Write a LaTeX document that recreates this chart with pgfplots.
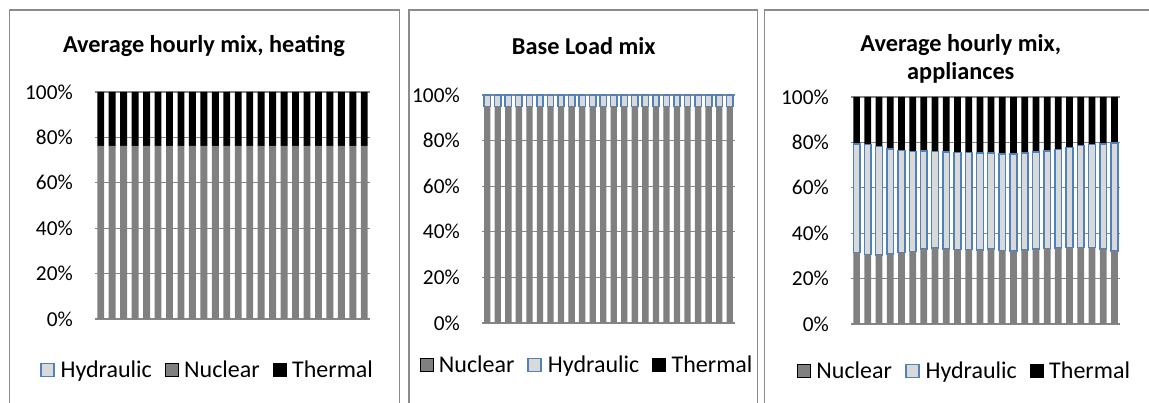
\documentclass[border=0pt]{standalone}
\usepackage{fontspec}
\setmainfont{Carlito}
\usepackage{pgfplots}
\usepackage{pgfplotstable}
\pgfplotsset{compat=1.18}
\definecolor{nucgray}{HTML}{808080}
\definecolor{hydfill}{HTML}{D9D9D9}
\definecolor{hydblue}{HTML}{4F81BD}
\definecolor{gridgray}{HTML}{868686}
\definecolor{framegray}{HTML}{8C8C8C}

\pgfplotstableread{
x hyd nuc the
1 0 76.3 23.7
2 0 76.3 23.7
3 0 76.3 23.7
4 0 76.3 23.7
5 0 76.3 23.7
6 0 76.3 23.7
7 0 76.3 23.7
8 0 76.3 23.7
9 0 76.3 23.7
10 0 76.3 23.7
11 0 76.3 23.7
12 0 76.3 23.7
13 0 76.3 23.7
14 0 76.3 23.7
15 0 76.3 23.7
16 0 76.3 23.7
17 0 76.3 23.7
18 0 76.3 23.7
19 0 76.3 23.7
20 0 76.3 23.7
21 0 76.3 23.7
22 0 76.3 23.7
23 0 76.3 23.7
24 0 76.3 23.7
}\heating

\pgfplotstableread{
x nuc hyd the
1 95 5 0
2 95 5 0
3 95 5 0
4 95 5 0
5 95 5 0
6 95 5 0
7 95 5 0
8 95 5 0
9 95 5 0
10 95 5 0
11 95 5 0
12 95 5 0
13 95 5 0
14 95 5 0
15 95 5 0
16 95 5 0
17 95 5 0
18 95 5 0
19 95 5 0
20 95 5 0
21 95 5 0
22 95 5 0
23 95 5 0
24 95 5 0
}\baseload

\pgfplotstableread{
x nuc hyd the
1 31.4 48.0 20.6
2 30.6 48.4 21.0
3 30.5 47.6 21.9
4 30.8 46.3 22.9
5 31.4 45.0 23.6
6 32.0 43.9 24.1
7 33.1 43.1 23.8
8 33.4 42.6 24.0
9 33.1 42.7 24.2
10 32.8 42.8 24.4
11 32.8 42.7 24.5
12 32.6 42.8 24.6
13 33.1 42.2 24.7
14 32.3 42.6 25.1
15 32.1 42.8 25.1
16 32.5 42.8 24.7
17 33.1 42.7 24.2
18 33.3 42.9 23.8
19 33.4 43.5 23.1
20 33.6 44.2 22.2
21 33.7 44.9 21.4
22 33.6 45.5 20.9
23 33.1 46.3 20.6
24 32.1 47.6 20.3
}\appl

\pgfplotsset{
  sqlegend/.style={legend image code/.code={\draw[##1] (0pt,-6.5pt) rectangle (13pt,6.5pt);}},
  mixaxis/.style={
    ybar stacked, bar width=0.6,
    every axis plot post/.append style={sqlegend},
    scale only axis,
    anchor=south west,
    xmin=0.5, xmax=24.5, ymin=0, ymax=100,
    xtick=\empty,
    ytick={0,20,40,60,80,100},
    yticklabels={0\%,20\%,40\%,60\%,80\%,100\%},
    ymajorgrids, grid style={draw=gridgray, line width=1.2pt},
    major tick length=0pt,
    axis line style={draw=none},
    yticklabel style={anchor=east, inner sep=0pt, xshift=-22pt, font=\fontsize{21.3}{25}\selectfont},
    legend columns=3,
    legend style={draw=none, fill=none, anchor=center,
      font=\fontsize{24}{28}\selectfont,
      nodes={inner xsep=3pt, inner ysep=1pt},
      /tikz/every odd column/.append style={column sep=3pt},
      /tikz/every even column/.append style={column sep=10pt}},
  },
  nucstyle/.style={fill=nucgray, draw=none},
  hydstyle/.style={fill=hydfill, draw=hydblue, line width=1.5pt},
  thestyle/.style={fill=black, draw=none},
}

\begin{document}
\begin{tikzpicture}
\useasboundingbox (0,0) rectangle (1149pt,403pt);
\fill[white] (0,0) rectangle (1149pt,403pt);
\clip (0,0) rectangle (1149pt,403pt);

% frames
\draw[framegray, line width=1.5pt] (9.3pt,-5pt) |- (399.3pt,393pt) -- (399.3pt,-5pt);
\draw[framegray, line width=1.5pt] (409pt,-5pt) |- (757.7pt,393pt) -- (757.7pt,-5pt);
\draw[framegray, line width=1.5pt] (764.3pt,-5pt) |- (1160pt,393pt);

% titles
\node[anchor=base, font=\fontsize{24.3}{28}\selectfont\bfseries] at (204pt,350pt) {Average hourly mix, heating};
\node[anchor=base, font=\fontsize{24.3}{28}\selectfont\bfseries] at (583.7pt,348.7pt) {Base Load mix};
\node[anchor=base, font=\fontsize{24.3}{28}\selectfont\bfseries] at (960.8pt,351.3pt) {Average hourly mix,};
\node[anchor=base, font=\fontsize{24.3}{28}\selectfont\bfseries] at (960.8pt,323pt) {appliances};

% panel 1
\begin{axis}[mixaxis, at={(95pt,84pt)}, width=275pt, height=227pt,
  legend style={at={(0.411,-0.225)}}]
\addplot[fill=hydfill, draw=none,
  legend image post style={draw=hydblue, line width=1.5pt}]
  table[x=x, y=hyd] {\heating};
\addplot[nucstyle] table[x=x, y=nuc] {\heating};
\addplot[thestyle] table[x=x, y=the] {\heating};
\legend{Hydraulic, Nuclear, Thermal}
\end{axis}

% panel 2
\begin{axis}[mixaxis, at={(482pt,80pt)}, width=253pt, height=228pt,
  legend style={at={(0.417,-0.184)}}]
\addplot[nucstyle] table[x=x, y=nuc] {\baseload};
\addplot[hydstyle] table[x=x, y=hyd] {\baseload};
\addplot[thestyle] table[x=x, y=the] {\baseload};
\legend{Nuclear, Hydraulic, Thermal}
\end{axis}

% panel 3
\begin{axis}[mixaxis, at={(851pt,79pt)}, width=269pt, height=227pt,
  legend style={at={(0.424,-0.206)}}]
\addplot[nucstyle] table[x=x, y=nuc] {\appl};
\addplot[hydstyle] table[x=x, y=hyd] {\appl};
\addplot[thestyle] table[x=x, y=the] {\appl};
\legend{Nuclear, Hydraulic, Thermal}
\end{axis}
\end{tikzpicture}
\end{document}
